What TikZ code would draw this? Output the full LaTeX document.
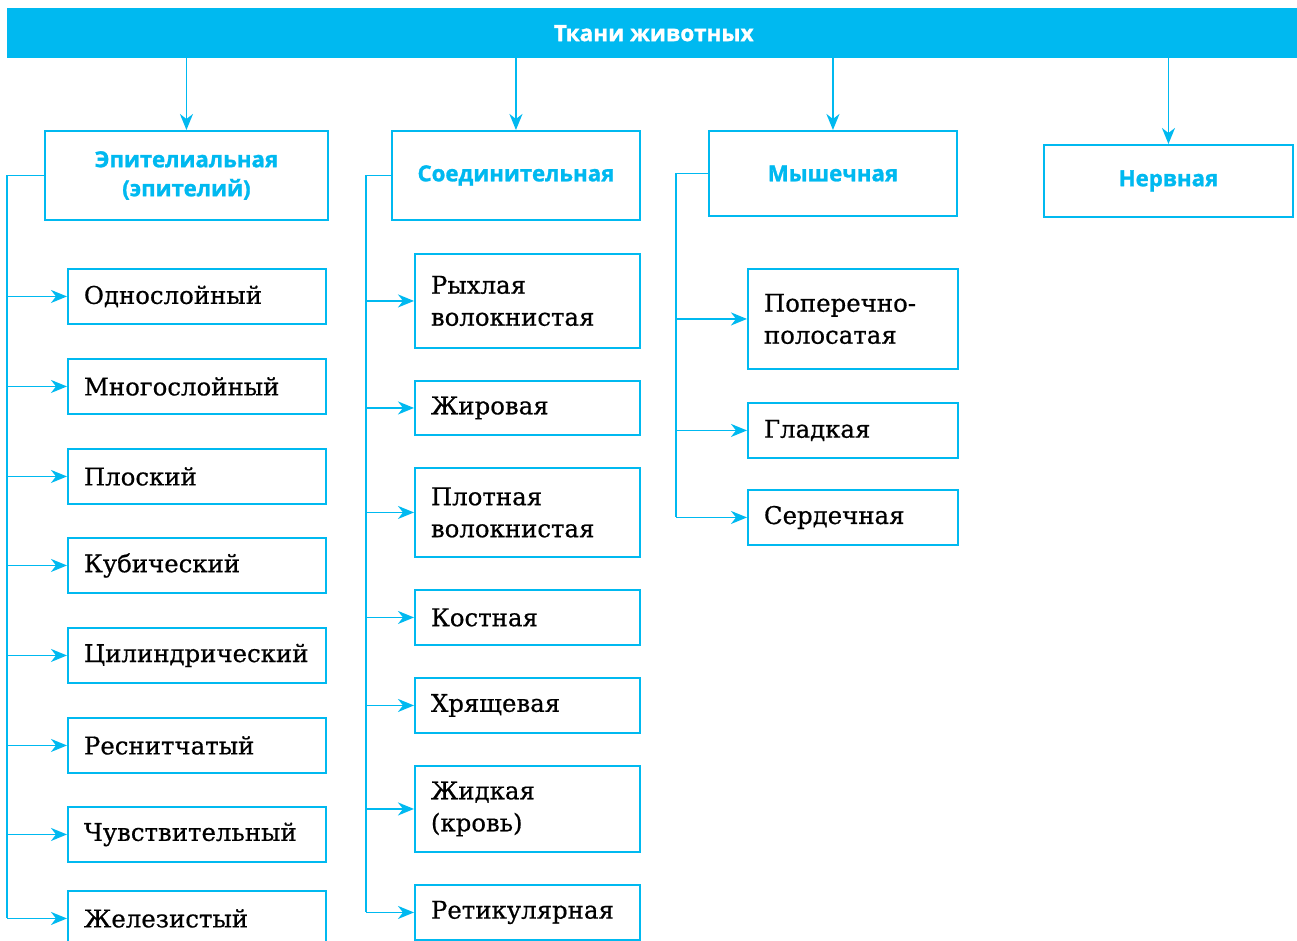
\documentclass[tikz,border=0pt]{standalone}
\usepackage{fontspec}
\setmainfont{DejaVu Serif}[FakeBold=0.6]
\newfontfamily\headfont{Open Sans}[BoldFeatures={FakeBold=1.2}]
\usetikzlibrary{arrows.meta}
\definecolor{tissuecyan}{RGB}{0,185,240}
\tikzset{
  bannerbox/.style={
    fill=tissuecyan,
    draw=none,
    anchor=north west,
    minimum width=1293,
    minimum height=50,
    inner sep=0pt,
    text=white,
    font=\headfont\bfseries\fontsize{22.5}{27}\selectfont
  },
  groupbox/.style={
    draw=tissuecyan,
    fill=white,
    line width=1.9pt,
    anchor=north west,
    align=center,
    inner sep=0pt,
    text=tissuecyan,
    font=\headfont\bfseries\fontsize{22.2}{29}\selectfont
  },
  itembox/.style={
    draw=tissuecyan,
    fill=white,
    line width=1.9pt,
    anchor=north west,
    align=left,
    inner xsep=16pt,
    inner ysep=0pt,
    text width=#1,
    text=black,
    font=\fontsize{24.4}{32}\selectfont
  },
  trunkline/.style={
    draw=tissuecyan,
    line width=1.9pt
  },
  feedarrow/.style={
    draw=tissuecyan,
    line width=1.9pt,
    -{Stealth[length=16pt,width=13pt,inset=5pt]}
  }
}

\begin{document}
\begin{tikzpicture}[x=1pt,y=-1pt]
  \useasboundingbox (0,0) rectangle (1297,940);

  % Title banner across the whole width.
  \node[bannerbox] (tkani) at (7,8) {Ткани животных};

  % The four kinds of tissue.
  \node[groupbox,minimum width=283,minimum height=89] (epi) at (44,130)
    {Эпителиальная\\(эпителий)};
  \node[groupbox,minimum width=248,minimum height=89] (soed) at (391,130)
    {Соединительная};
  \node[groupbox,minimum width=248,minimum height=85] (mysh) at (708,130)
    {Мышечная};
  \node[groupbox,minimum width=249,minimum height=72] (nerv) at (1043,144)
    {Нервная};

  % Kinds of epithelium.
  \node[itembox=226pt,minimum height=55] (odno) at (67,268) {Однослойный};
  \node[itembox=226pt,minimum height=55] (mnogo) at (67,358) {Многослойный};
  \node[itembox=226pt,minimum height=55] (plosk) at (67,448) {Плоский};
  \node[itembox=226pt,minimum height=55] (kub) at (67,537) {Кубический};
  \node[itembox=226pt,minimum height=55] (cil) at (67,627) {Цилиндрический};
  \node[itembox=226pt,minimum height=55] (resn) at (67,717) {Реснитчатый};
  \node[itembox=226pt,minimum height=55] (chuv) at (67,806) {Чувствительный};
  \node[itembox=226pt,minimum height=55] (zhel) at (67,890) {Железистый};

  % Kinds of connective tissue.
  \node[itembox=193pt,minimum height=94] (ryh) at (414,253)
    {Рыхлая\\волокнистая};
  \node[itembox=193pt,minimum height=54] (zhir) at (414,380) {Жировая};
  \node[itembox=193pt,minimum height=89] (plot) at (414,467)
    {Плотная\\волокнистая};
  \node[itembox=193pt,minimum height=55] (kost) at (414,589) {Костная};
  \node[itembox=193pt,minimum height=55] (hrya) at (414,677) {Хрящевая};
  \node[itembox=193pt,minimum height=86] (zhid) at (414,765)
    {Жидкая\\(кровь)};
  \node[itembox=193pt,minimum height=55] (ret) at (414,884) {Ретикулярная};

  % Kinds of muscle tissue.
  \node[itembox=178pt,minimum height=100] (pop) at (747,268)
    {Поперечно-\\полосатая};
  \node[itembox=178pt,minimum height=55] (glad) at (747,402) {Гладкая};
  \node[itembox=178pt,minimum height=55] (serd) at (747,489) {Сердечная};

  % Vertical spines of the three branches.
  \coordinate (spineE) at (7,0);
  \coordinate (spineS) at (366,0);
  \coordinate (spineM) at (676,0);

  % Arrows from the banner down to each kind of tissue.
  \draw[feedarrow] (tkani.south -| epi.north) -- (epi.north);
  \draw[feedarrow] (tkani.south -| soed.north) -- (soed.north);
  \draw[feedarrow] (tkani.south -| mysh.north) -- (mysh.north);
  \draw[feedarrow] (tkani.south -| nerv.north) -- (nerv.north);

  % Epithelium branch.
  \draw[trunkline] (epi.west) -| (spineE |- zhel.west);
  \draw[feedarrow] (spineE |- odno.west) -- (odno.west);
  \draw[feedarrow] (spineE |- mnogo.west) -- (mnogo.west);
  \draw[feedarrow] (spineE |- plosk.west) -- (plosk.west);
  \draw[feedarrow] (spineE |- kub.west) -- (kub.west);
  \draw[feedarrow] (spineE |- cil.west) -- (cil.west);
  \draw[feedarrow] (spineE |- resn.west) -- (resn.west);
  \draw[feedarrow] (spineE |- chuv.west) -- (chuv.west);
  \draw[feedarrow] (spineE |- zhel.west) -- (zhel.west);

  % Connective tissue branch.
  \draw[trunkline] (soed.west) -| (spineS |- ret.west);
  \draw[feedarrow] (spineS |- ryh.west) -- (ryh.west);
  \draw[feedarrow] (spineS |- zhir.west) -- (zhir.west);
  \draw[feedarrow] (spineS |- plot.west) -- (plot.west);
  \draw[feedarrow] (spineS |- kost.west) -- (kost.west);
  \draw[feedarrow] (spineS |- hrya.west) -- (hrya.west);
  \draw[feedarrow] (spineS |- zhid.west) -- (zhid.west);
  \draw[feedarrow] (spineS |- ret.west) -- (ret.west);

  % Muscle tissue branch.
  \draw[trunkline] (mysh.west) -| (spineM |- serd.west);
  \draw[feedarrow] (spineM |- pop.west) -- (pop.west);
  \draw[feedarrow] (spineM |- glad.west) -- (glad.west);
  \draw[feedarrow] (spineM |- serd.west) -- (serd.west);

\end{tikzpicture}
\end{document}
